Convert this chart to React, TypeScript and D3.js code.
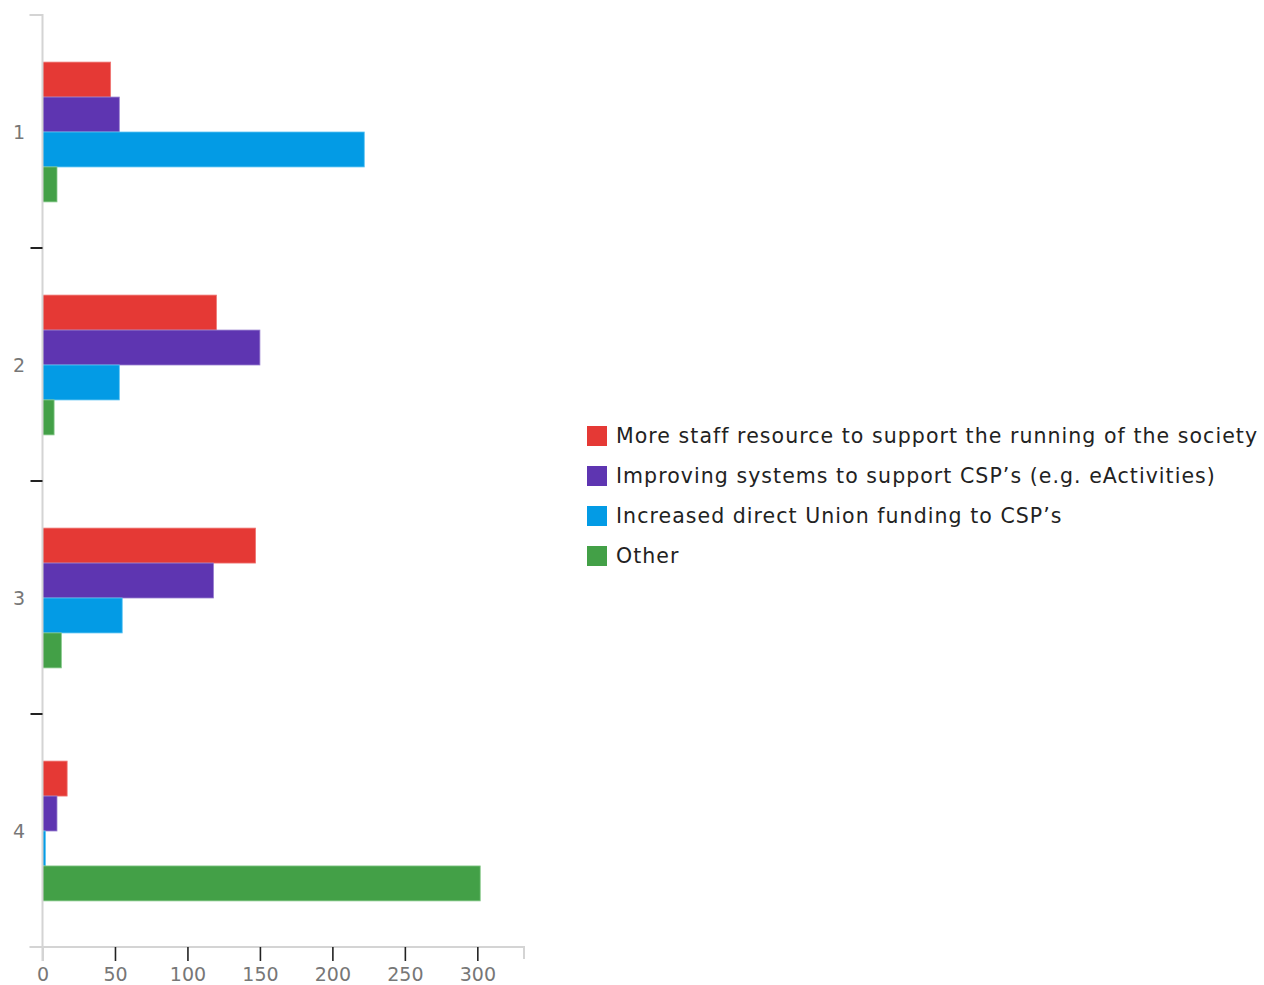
import React, { useEffect, useRef } from "react";
import * as d3 from "d3";

// Categories (rank positions) and the four response series
const categories = ["1", "2", "3", "4"];
const seriesNames = [
  "More staff resource to support the running of the society",
  "Improving systems to support CSP\u2019s (e.g. eActivities)",
  "Increased direct Union funding to CSP\u2019s",
  "Other",
];
const staffValues = [47, 120, 147, 17];
const systemsValues = [53, 150, 118, 10];
const fundingValues = [222, 53, 55, 2];
const otherValues = [10, 8, 13, 302];
const xTickValues = [0, 50, 100, 150, 200, 250, 300];

const seriesColors = ["#e53935", "#5e35b1", "#039be5", "#43a047"];
const seriesStrokes = ["#ef7673", "#9a80d0", "#5cc3f2", "#86c98a"];

const W = 1264;
const H = 985;
const FONT = "'DejaVu Sans', 'Noto Sans', sans-serif";

export default function App() {
  const ref = useRef<SVGSVGElement | null>(null);

  useEffect(() => {
    const svg = d3.select(ref.current);
    svg.selectAll("*").remove();

    const left = 42.5;
    const top = 15;
    const bottom = 947;
    const series = [staffValues, systemsValues, fundingValues, otherValues];
    const maxVal = d3.max(series.flat()) as number;

    const x = d3.scaleLinear().domain([0, maxVal * 1.1]).range([left, 524]);
    const y = d3
      .scaleBand<string>()
      .domain(categories)
      .range([top, bottom])
      .paddingInner(0.4)
      .paddingOuter(0.2);
    const inner = d3
      .scaleBand<number>()
      .domain(d3.range(series.length))
      .range([0, y.bandwidth()]);

    // bars
    const g = svg.append("g");
    categories.forEach((cat, ci) => {
      series.forEach((vals, si) => {
        g.append("rect")
          .attr("x", x(0))
          .attr("y", (y(cat) as number) + (inner(si) as number) + 0.5)
          .attr("width", x(vals[ci]) - x(0))
          .attr("height", inner.bandwidth())
          .attr("fill", seriesColors[si])
          .attr("stroke", seriesStrokes[si])
          .attr("stroke-width", 0.8);
      });
    });

    // x axis
    const xAxis = d3
      .axisBottom(x)
      .tickValues(xTickValues)
      .tickSizeInner(14)
      .tickSizeOuter(12)
      .tickPadding(7)
      .tickFormat(d3.format("d"));
    const xg = svg
      .append("g")
      .attr("transform", `translate(0,${bottom})`)
      .call(xAxis);
    xg.select(".domain")
      .attr("stroke", "#d4d4d4")
      .attr("stroke-width", 2)
      .attr("d", `M${left - 13},0H${x.range()[1]}V12`);
    xg.selectAll(".tick line")
      .attr("stroke", (d: any) => (d === 0 ? "#d4d4d4" : "#222"))
      .attr("stroke-width", (d: any) => (d === 0 ? 2 : 1.6));
    xg.selectAll(".tick text")
      .attr("fill", "#777")
      .attr("font-family", FONT)
      .attr("font-size", 19);

    // y axis: gray domain line, dark separators between bands, centred labels
    const yg = svg.append("g");
    yg.append("path")
      .attr("d", `M${left - 13},${top}H${left}V${bottom + 14}`)
      .attr("fill", "none")
      .attr("stroke", "#d4d4d4")
      .attr("stroke-width", 2);
    categories.slice(1).forEach((_, i) => {
      const yy = top + y.step() * (i + 1);
      yg.append("line")
        .attr("x1", left - 12)
        .attr("x2", left)
        .attr("y1", yy)
        .attr("y2", yy)
        .attr("stroke", "#222")
        .attr("stroke-width", 2);
    });
    categories.forEach((cat) => {
      yg.append("text")
        .attr("x", 25)
        .attr("y", (y(cat) as number) + y.bandwidth() / 2 + 1)
        .attr("dy", "0.35em")
        .attr("text-anchor", "end")
        .attr("fill", "#777")
        .attr("font-family", FONT)
        .attr("font-size", 19)
        .text(cat);
    });

    // legend
    const lg = svg.append("g").attr("transform", "translate(587,426)");
    seriesNames.forEach((name, i) => {
      const row = lg.append("g").attr("transform", `translate(0,${i * 40})`);
      row
        .append("rect")
        .attr("width", 20)
        .attr("height", 20)
        .attr("fill", seriesColors[i]);
      row
        .append("text")
        .attr("x", 29)
        .attr("y", 10)
        .attr("dy", "0.36em")
        .attr("fill", "#222")
        .attr("font-family", FONT)
        .attr("font-size", 20.5)
        .attr("letter-spacing", 1.05)
        .text(name);
    });
  }, []);

  return (
    <svg
      ref={ref}
      width={W}
      height={H}
      style={{ position: "absolute", left: 0, top: 0, background: "#fff" }}
    />
  );
}
